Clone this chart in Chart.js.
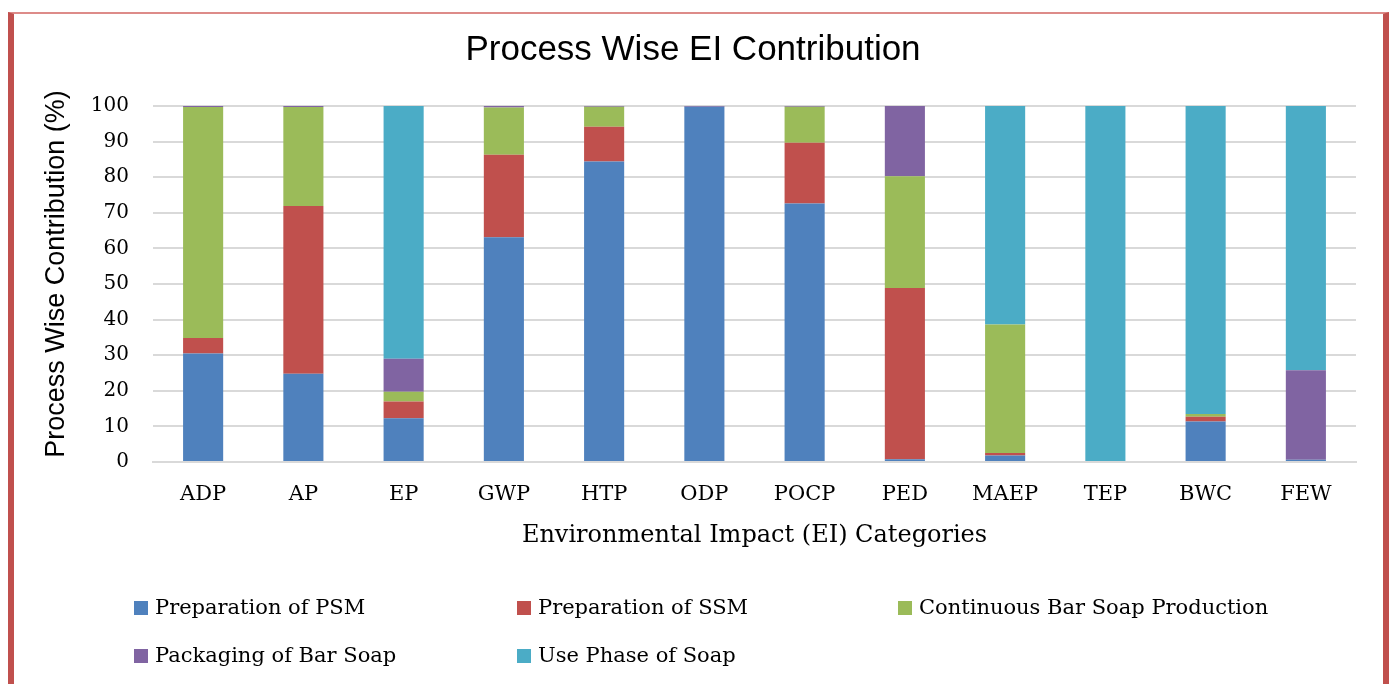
<!DOCTYPE html>
<html>
<head>
<meta charset="utf-8">
<script src="https://cdn.jsdelivr.net/npm/chart.js@4.4.1/dist/chart.umd.min.js"></script>
<style>
  html, body { margin: 0; padding: 0; background: #ffffff; overflow: hidden; }
  #wrap { position: relative; width: 1392px; height: 684px; }
  #frame { position: absolute; left: 8px; top: 12px; width: 1369px; height: 800px;
           border-top: 2px solid #dd8b89; border-left: 6px solid #c0504d; border-right: 6px solid #c0504d;
           pointer-events: none; }
  canvas { position: absolute; left: 0; top: 0; }
</style>
</head>
<body>
<div id="wrap">
  <canvas id="c" width="1392" height="684"></canvas>
  <div id="frame"></div>
</div>
<script>
// ---- data ----
const categories = ['ADP', 'AP', 'EP', 'GWP', 'HTP', 'ODP', 'POCP', 'PED', 'MAEP', 'TEP', 'BWC', 'FEW'];
const seriesNames = ['Preparation of PSM', 'Preparation of SSM', 'Continuous Bar Soap Production', 'Packaging of Bar Soap', 'Use Phase of Soap'];
const prepPSM   = [30.5, 24.8, 12.3, 63.1, 84.4, 99.8, 72.6,  0.8,  1.8,   0, 11.4,  0.6];
const prepSSM   = [ 4.3, 47.1,  4.7, 23.2,  9.8,  0.0, 17.1, 48.1,  0.7,   0,  1.3,  0.0];
const contBar   = [64.9, 27.8,  2.7, 13.3,  5.6,  0.0, 10.1, 31.4, 36.1,   0,  0.8,  0.0];
const packaging = [ 0.3,  0.3,  9.3,  0.4,  0.2,  0.2,  0.2, 19.7,  0.0,   0,  0.0, 25.2];
const usePhase  = [ 0.0,  0.0, 71.0,  0.0,  0.0,  0.0,  0.0,  0.0, 61.4, 100, 86.5, 74.2];
const yTicks = [0, 10, 20, 30, 40, 50, 60, 70, 80, 90, 100];
const chartTitle = 'Process Wise EI Contribution';
const xTitle = 'Environmental Impact (EI) Categories';
const yTitle = 'Process Wise Contribution (%)';

const colors = ['#4f81bd', '#c0504d', '#9bbb59', '#8064a2', '#4bacc6'];
const seriesValues = [prepPSM, prepSSM, contBar, packaging, usePhase];

const serif = '"DejaVu Serif", serif';
const sans = '"Liberation Sans", Arial, sans-serif';

const textPlugin = {
  id: 'textAndLegend',
  afterDraw(chart) {
    const ctx = chart.ctx;
    ctx.save();
    // chart title
    ctx.font = '35px ' + sans;
    ctx.textAlign = 'center';
    ctx.textBaseline = 'middle';
    ctx.fillStyle = '#000000';
    ctx.fillText(chartTitle, 693, 50);
    // legend
    const colX = [134, 517, 898];
    const rowY = [608, 656];
    ctx.font = '21px ' + serif;
    ctx.textAlign = 'left';
    chart.data.datasets.forEach((ds, i) => {
      const x = colX[i % 3];
      const y = rowY[Math.floor(i / 3)];
      ctx.fillStyle = ds.backgroundColor;
      ctx.fillRect(x, y - 7, 14, 14);
      ctx.fillStyle = '#000000';
      ctx.fillText(ds.label, x + 21, y + 1);
    });
    // y-axis title
    ctx.translate(57, 274);
    ctx.rotate(-Math.PI / 2);
    ctx.font = '27px ' + sans;
    ctx.textAlign = 'center';
    ctx.fillText(yTitle, 0, 0);
    ctx.restore();
  }
};

new Chart(document.getElementById('c'), {
  type: 'bar',
  data: {
    labels: categories,
    datasets: seriesValues.map((vals, i) => ({
      label: seriesNames[i],
      data: vals,
      backgroundColor: colors[i],
      borderWidth: 0,
      categoryPercentage: 1.0,
      barPercentage: 0.4
    }))
  },
  options: {
    responsive: false,
    animation: false,
    devicePixelRatio: 1,
    layout: { padding: { left: 14, right: 36, top: 106, bottom: 124 } },
    plugins: {
      legend: { display: false },
      tooltip: { enabled: false },
      title: { display: false }
    },
    scales: {
      x: {
        stacked: true,
        grid: { display: false, drawTicks: false },
        border: { display: true, color: '#d9d9d9', width: 2 },
        ticks: { color: '#000000', font: { family: serif, size: 21 }, padding: 20, maxRotation: 0 },
        title: { display: true, text: xTitle, color: '#000000', font: { family: serif, size: 24 }, padding: { top: 0, bottom: 10 } },
        afterFit(scale) { scale.height = 98; }
      },
      y: {
        stacked: true,
        min: 0,
        max: 100,
        afterBuildTicks(scale) { scale.ticks = yTicks.map(v => ({ value: v })); },
        grid: { color: '#d9d9d9', lineWidth: 2, drawTicks: false },
        border: { display: false },
        ticks: { color: '#000000', font: { family: serif, size: 20 }, padding: 24 },
        title: { display: false },
        afterFit(scale) { scale.width = 139; }
      }
    }
  },
  plugins: [textPlugin]
});
</script>
</body>
</html>
